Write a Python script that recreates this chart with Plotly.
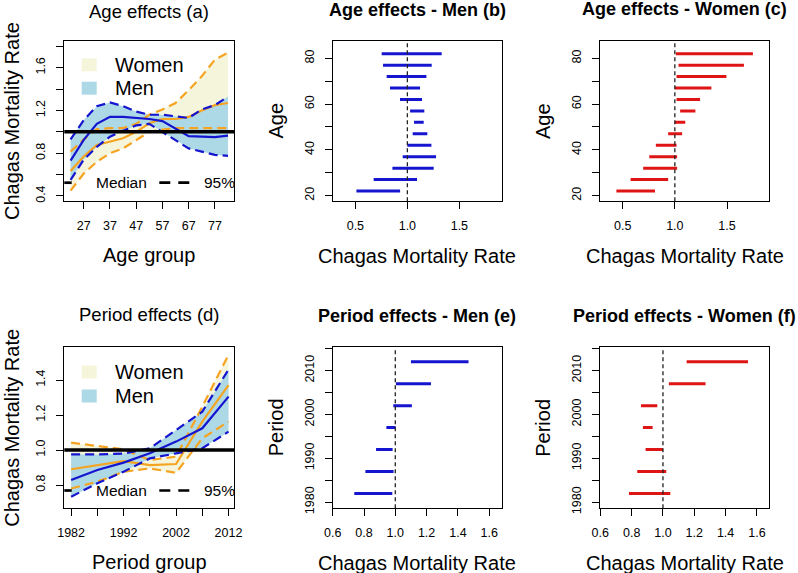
import plotly.graph_objects as go

# ---------------- DATA ----------------
age_groups = [22, 27, 32, 37, 42, 47, 52, 57, 62, 67, 72, 77, 82]

# Panel (a) age effects (relative rates)
a_men_med = [0.73, 0.925, 1.075, 1.14, 1.14, 1.13, 1.12, 1.10, 1.03, 0.96, 0.955, 0.95, 0.965]
a_men_hi = [0.93, 1.11, 1.24, 1.275, 1.24, 1.19, 1.16, 1.16, 1.145, 1.13, 1.21, 1.25, 1.33]
a_men_lo = [0.55, 0.74, 0.86, 0.955, 1.01, 1.06, 1.075, 1.0, 0.925, 0.845, 0.815, 0.785, 0.775]
a_wom_med = [0.634, 0.77, 0.878, 0.91, 0.94, 1.0, 1.08, 1.12, 1.12, 1.14, 1.2, 1.25, 1.27]
a_wom_hi = [0.815, 0.93, 1.025, 1.035, 1.035, 1.075, 1.16, 1.21, 1.27, 1.39, 1.52, 1.675, 1.74]
a_wom_lo = [0.45, 0.61, 0.72, 0.80, 0.845, 0.925, 1.0, 1.02, 1.035, 1.035, 1.035, 1.035, 1.035]

# Panel (b) age effects men: 95% intervals
b_lo = [0.51, 0.676, 0.856, 0.955, 1.0, 1.051, 1.064, 1.026, 0.929, 0.833, 0.801, 0.766, 0.753]
b_hi = [0.93, 1.093, 1.253, 1.276, 1.231, 1.192, 1.157, 1.163, 1.141, 1.122, 1.183, 1.234, 1.33]

# Panel (c) age effects women: 95% intervals
c_lo = [0.44, 0.576, 0.697, 0.755, 0.818, 0.936, 1.0, 1.051, 1.016, 1.0, 1.016, 1.035, 1.01]
c_hi = [0.81, 0.936, 1.022, 1.022, 1.016, 1.07, 1.10, 1.197, 1.242, 1.35, 1.494, 1.662, 1.748]

periods = [1982, 1987, 1992, 1997, 2002, 2007, 2012]

# Panel (d) period effects
d_men_med = [0.829, 0.886, 0.928, 0.981, 1.048, 1.124, 1.305]
d_men_hi = [0.975, 0.975, 0.98, 1.01, 1.114, 1.219, 1.46]
d_men_lo = [0.733, 0.81, 0.876, 0.952, 0.981, 1.01, 1.105]
d_wom_med = [0.89, 0.914, 0.937, 0.914, 0.92, 1.162, 1.371]
d_wom_hi = [1.042, 1.023, 1.004, 0.943, 0.962, 1.248, 1.545]
d_wom_lo = [0.78, 0.819, 0.876, 0.895, 0.87, 1.067, 1.162]

# Panel (e) period effects men: 95% intervals
e_lo = [0.738, 0.809, 0.877, 0.943, 0.987, 1.004, 1.10]
e_hi = [0.981, 0.989, 0.983, 1.002, 1.106, 1.228, 1.468]

# Panel (f) period effects women: 95% intervals
f_lo = [0.783, 0.836, 0.889, 0.872, 0.860, 1.038, 1.151]
f_hi = [1.047, 1.021, 1.0, 0.934, 0.964, 1.272, 1.543]

# Tick values / labels
a_xticks = [27, 37, 47, 57, 67, 77]
a_yticks = [0.4, 0.6, 0.8, 1.0, 1.2, 1.4, 1.6, 1.8]
a_ylabels = ["0.4", "", "0.8", "", "1.2", "", "1.6", ""]
bc_xticks = [0.5, 1.0, 1.5]
bc_xlabels = ["0.5", "1.0", "1.5"]
bc_yticks = [20, 30, 40, 50, 60, 70, 80]
bc_ylabels = ["20", "", "40", "", "60", "", "80"]
d_xticks = [1982, 1987, 1992, 1997, 2002, 2007, 2012]
d_xlabels = ["1982", "", "1992", "", "2002", "", "2012"]
d_yticks = [0.8, 1.0, 1.2, 1.4]
d_ylabels = ["0.8", "1.0", "1.2", "1.4"]
ef_xticks = [0.6, 0.8, 1.0, 1.2, 1.4, 1.6]
ef_xlabels = ["0.6", "0.8", "1.0", "1.2", "1.4", "1.6"]
ef_yticks = [1980, 1985, 1990, 1995, 2000, 2005, 2010, 2015]
ef_ylabels = ["1980", "", "1990", "", "2000", "", "2010", ""]

titles = ["Age effects (a)", "Age effects - Men (b)", "Age effects - Women (c)",
          "Period effects (d)", "Period effects - Men (e)", "Period effects - Women (f)"]
xtitles = ["Age group", "Chagas Mortality Rate", "Chagas Mortality Rate",
           "Period group", "Chagas Mortality Rate", "Chagas Mortality Rate"]
ytitles = ["Chagas Mortality Rate", "Age", "Age",
           "Chagas Mortality Rate", "Period", "Period"]

# ---------------- STYLE ----------------
W, H = 798, 573
FONT = "Liberation Sans, Arial, sans-serif"
ORANGE = "#F5A422"
BLUE = "#1515D0"
RED = "#DF1414"
BEIGE = "#F5F5DC"
LBLUE = "#ADD8E6"


def px(x):
    return x / W


def py(y):
    return 1 - y / H


# panel boxes in pixels: (x0, x1, y0, y1)
boxes = [
    (64.3, 234.3, 41.0, 201.0),
    (332.7, 501.7, 40.7, 201.3),
    (600.0, 769.3, 40.7, 201.3),
    (64.3, 234.3, 347.3, 508.3),
    (332.7, 501.7, 347.3, 508.3),
    (600.0, 769.3, 347.3, 508.3),
]

fig = go.Figure()


def band(xs, lo, hi, color, ax):
    fig.add_trace(go.Scatter(x=list(xs) + list(xs)[::-1], y=list(hi) + list(lo)[::-1],
                             fill="toself", fillcolor=color, line=dict(width=0),
                             mode="lines", xaxis="x" + ax, yaxis="y" + ax,
                             hoverinfo="skip", showlegend=False))


def line(xs, ys, color, dash, ax, width=2.2):
    fig.add_trace(go.Scatter(x=xs, y=ys, mode="lines",
                             line=dict(color=color, width=width, dash=dash),
                             xaxis="x" + ax, yaxis="y" + ax,
                             hoverinfo="skip", showlegend=False))


def intervals(lo, hi, pos, color, ax):
    xs, ys = [], []
    for l, h, p in zip(lo, hi, pos):
        xs += [l, h, None]
        ys += [p, p, None]
    fig.add_trace(go.Scatter(x=xs, y=ys, mode="lines", line=dict(color=color, width=3),
                             xaxis="x" + ax, yaxis="y" + ax,
                             hoverinfo="skip", showlegend=False))


DASH = "9px,5px"
# Panel a (axis "")
band(age_groups, a_wom_lo, a_wom_hi, BEIGE, "")
band(age_groups, a_men_lo, a_men_hi, LBLUE, "")
line(age_groups, a_wom_lo, ORANGE, DASH, "")
line(age_groups, a_wom_hi, ORANGE, DASH, "")
line(age_groups, a_wom_med, ORANGE, "solid", "")
line(age_groups, a_men_lo, BLUE, DASH, "")
line(age_groups, a_men_hi, BLUE, DASH, "")
line(age_groups, a_men_med, BLUE, "solid", "")

# Panel b, c
intervals(b_lo, b_hi, age_groups, BLUE, "2")
intervals(c_lo, c_hi, age_groups, RED, "3")

# Panel d
band(periods, d_wom_lo, d_wom_hi, BEIGE, "4")
band(periods, d_men_lo, d_men_hi, LBLUE, "4")
line(periods, d_wom_lo, ORANGE, DASH, "4")
line(periods, d_wom_hi, ORANGE, DASH, "4")
line(periods, d_wom_med, ORANGE, "solid", "4")
line(periods, d_men_lo, BLUE, DASH, "4")
line(periods, d_men_hi, BLUE, DASH, "4")
line(periods, d_men_med, BLUE, "solid", "4")

# Panel e, f
intervals(e_lo, e_hi, periods, BLUE, "5")
intervals(f_lo, f_hi, periods, RED, "6")

tickfont = dict(family=FONT, size=12.5, color="black")


def axis(i, rng, tv, tt, anchor, is_y):
    x0, x1, y0, y1 = boxes[i]
    dom = [py(y1), py(y0)] if is_y else [px(x0), px(x1)]
    d = dict(domain=dom, range=rng, tickmode="array", tickvals=tv, ticktext=tt,
             anchor=anchor, showline=True, mirror=True, linecolor="black", linewidth=1,
             ticks="outside", ticklen=7, tickwidth=1, tickcolor="black",
             showgrid=False, zeroline=False, tickfont=tickfont, fixedrange=True,
             automargin=False, ticklabelstandoff=6)
    if is_y:
        d["tickangle"] = -90
    return d


layout = dict(
    width=W, height=H, margin=dict(l=0, r=0, t=0, b=0, pad=0, autoexpand=False),
    paper_bgcolor="white", plot_bgcolor="white", showlegend=False,
    xaxis=axis(0, [19.6, 84.4], a_xticks, [str(v) for v in a_xticks], "y", False),
    yaxis=axis(0, [0.353, 1.85], a_yticks, a_ylabels, "x", True),
    xaxis2=axis(1, [0.282, 1.907], bc_xticks, bc_xlabels, "y2", False),
    yaxis2=axis(1, [17.5, 87.7], bc_yticks, bc_ylabels, "x2", True),
    xaxis3=axis(2, [0.283, 1.905], bc_xticks, bc_xlabels, "y3", False),
    yaxis3=axis(2, [17.5, 87.7], bc_yticks, bc_ylabels, "x3", True),
    xaxis4=axis(3, [1980.7, 2013.1], d_xticks, d_xlabels, "y4", False),
    yaxis4=axis(3, [0.667, 1.587], d_yticks, d_ylabels, "x4", True),
    xaxis5=axis(4, [0.6, 1.68], ef_xticks, ef_xlabels, "y5", False),
    yaxis5=axis(4, [1978.6, 2015.3], ef_yticks, ef_ylabels, "x5", True),
    xaxis6=axis(5, [0.598, 1.679], ef_xticks, ef_xlabels, "y6", False),
    yaxis6=axis(5, [1978.6, 2015.3], ef_yticks, ef_ylabels, "x6", True),
)
fig.update_layout(**layout)

shapes = []
# reference line at 1 (panels a, d)
for ax in ["", "4"]:
    shapes.append(dict(type="line", xref="x" + ax + " domain", yref="y" + ax,
                       x0=0, x1=1, y0=1, y1=1, line=dict(color="black", width=3.5)))
# vertical dashed at 1 (b, c, e, f)
for ax in ["2", "3", "5", "6"]:
    shapes.append(dict(type="line", xref="x" + ax, yref="y" + ax + " domain",
                       x0=1, x1=1, y0=0, y1=1,
                       line=dict(color="#222222", width=1.3, dash="4px,3px")))

annotations = []
title_y = [8, 10, 9.5, 314.5, 316, 316]
xt_y = [255, 255.5, 255.5, 562, 563, 563]
yt_x = [8.5, 275.5, 543, 8.5, 275.5, 543]
for i, (x0, x1, y0, y1) in enumerate(boxes):
    cx = (x0 + x1) / 2
    cy = (y0 + y1) / 2
    bold = i not in (0, 3)
    if i == 0:
        tpos = dict(y=py(0), yanchor="top")
    else:
        tpos = dict(y=py(title_y[i]), yanchor="middle")
    annotations.append(dict(x=px(cx), xref="paper", yref="paper",
                            text=("<b>%s</b>" % titles[i]) if bold else titles[i],
                            showarrow=False, xanchor="center", borderpad=0,
                            font=dict(family=FONT, size=18 if bold else 18.5, color="black"),
                            **tpos))
    annotations.append(dict(x=px(cx), y=py(xt_y[i]), xref="paper", yref="paper",
                            text=xtitles[i], showarrow=False, xanchor="center", yanchor="middle",
                            font=dict(family=FONT, size=20, color="black")))
    if i in (0, 3):
        ypos = dict(x=0, xanchor="left")
    else:
        ypos = dict(x=px(yt_x[i]), xanchor="center")
    annotations.append(dict(y=py(cy), xref="paper", yref="paper",
                            text=ytitles[i], showarrow=False, yanchor="middle", borderpad=0,
                            textangle=-90, font=dict(family=FONT, size=20, color="black"),
                            **ypos))

# legends in panels a and d
leg = [dict(sq_y=58.3, men_y=81.7, med_y=182.7), dict(sq_y=365.5, men_y=389.5, med_y=490.5)]
for lg in leg:
    for yy, col, lab in [(lg["sq_y"], BEIGE, "Women"), (lg["men_y"], LBLUE, "Men")]:
        shapes.append(dict(type="rect", xref="paper", yref="paper",
                           x0=px(81.7), x1=px(96.7), y0=py(yy + 13), y1=py(yy),
                           fillcolor=col, line=dict(width=0)))
        annotations.append(dict(x=px(113), y=py(yy + 6.8), xref="paper", yref="paper",
                                text=lab, showarrow=False, xanchor="left", yanchor="middle",
                                font=dict(family=FONT, size=20, color="black")))
    my = lg["med_y"]
    shapes.append(dict(type="line", xref="paper", yref="paper", x0=px(64.3), x1=px(71.7),
                       y0=py(my), y1=py(my), line=dict(color="black", width=2.7)))
    shapes.append(dict(type="line", xref="paper", yref="paper", x0=px(159.3), x1=px(190),
                       y0=py(my), y1=py(my), line=dict(color="black", width=2.7, dash="11px,8px")))
    annotations.append(dict(x=px(93.5), y=py(my), xref="paper", yref="paper", text="Median",
                            showarrow=False, xanchor="left", yanchor="middle",
                            font=dict(family=FONT, size=15.5, color="black")))
    annotations.append(dict(x=px(202), y=py(my), xref="paper", yref="paper", text="95%",
                            showarrow=False, xanchor="left", yanchor="middle",
                            font=dict(family=FONT, size=15.5, color="black")))

fig.update_layout(shapes=shapes, annotations=annotations)
fig.write_html("out.html", config={"displayModeBar": False, "staticPlot": True},
               post_script="document.body.style.margin='0px';document.body.style.overflow='hidden';")
